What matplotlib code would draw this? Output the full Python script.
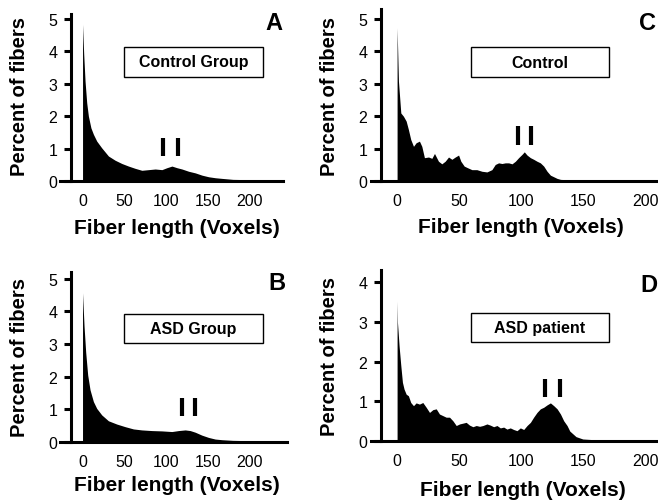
import matplotlib
matplotlib.use('Agg')
import matplotlib.pyplot as plt
from matplotlib.patches import Rectangle

plt.rcParams['font.family'] = ['Liberation Sans', 'DejaVu Sans']

W, H = 658, 502

# fiber length histograms (voxels, percent of fibers)
a_x = [0, 1.4, 3, 5, 7, 10, 13, 17, 23, 31, 39, 47, 55, 63, 71, 79, 87, 95, 101, 107,
       113, 119, 127, 135, 143, 151, 159, 167, 180, 200, 220, 240]
a_y = [4.83, 3.90, 3.08, 2.41, 2.0, 1.64, 1.44, 1.23, 1.02, 0.77, 0.64, 0.54, 0.46, 0.39,
       0.33, 0.35, 0.37, 0.35, 0.41, 0.46, 0.41, 0.37, 0.30, 0.25, 0.18, 0.13, 0.10, 0.08,
       0.05, 0.04, 0.03, 0.03]

b_x = [0, 1.8, 3.8, 6.2, 9, 13, 17, 23, 31, 41, 51, 61, 71, 83, 95, 107, 115, 123, 129,
       135, 143, 151, 159, 167, 180, 200, 220, 245]
b_y = [4.57, 3.56, 2.75, 2.05, 1.60, 1.24, 1.03, 0.83, 0.65, 0.55, 0.47, 0.40, 0.37, 0.35,
       0.34, 0.32, 0.35, 0.37, 0.35, 0.30, 0.21, 0.14, 0.09, 0.07, 0.05, 0.04, 0.03, 0.03]

c_x = [0, 1.1, 3.0, 5.1, 7.3, 9.1, 11.0, 13.2, 15.3, 18.0, 19.9, 22.0, 25.3, 28.0, 30.1,
       33.3, 36.0, 38.7, 41.4, 44.1, 46.8, 49.5, 51.3, 54.0, 56.7, 60.2, 64.2, 68.3, 72.3,
       76.3, 79.0, 81.7, 84.4, 87.1, 89.8, 92.5, 95.2, 97.8, 100.5, 102.4, 104.6, 107.3,
       109.9, 112.6, 115.3, 118.0, 120.7, 123.4, 126.1, 128.8, 131.5, 140, 160, 180, 210]
c_y = [4.73, 3.08, 2.10, 2.0, 1.85, 1.59, 1.28, 1.07, 1.18, 1.23, 1.07, 0.72, 0.74, 0.70,
       0.85, 0.61, 0.53, 0.61, 0.74, 0.67, 0.74, 0.80, 0.61, 0.46, 0.41, 0.35, 0.35, 0.30,
       0.28, 0.35, 0.51, 0.56, 0.54, 0.56, 0.56, 0.53, 0.61, 0.72, 0.82, 0.90, 0.80, 0.72,
       0.67, 0.61, 0.56, 0.46, 0.30, 0.18, 0.13, 0.08, 0.05, 0.03, 0.02, 0.02, 0.02]

d_x = [0, 0.3, 1.6, 3.0, 4.3, 5.6, 7.3, 9.1, 11, 13.2, 15.3, 18, 20.7, 23.4, 26.1, 28.8,
       31.5, 34.1, 36.8, 39.5, 42.2, 44.9, 47.6, 50.3, 53, 55.6, 58.3, 61, 63.7, 66.4, 69.1,
       72.3, 75, 77.7, 80.4, 83.1, 85.8, 88.4, 91.1, 93.8, 96.5, 99.2, 101.9, 104.6, 107.3,
       109.9, 112.6, 115.3, 118, 120.7, 123.4, 126.1, 128.8, 131.5, 134.1, 136.8, 139, 144,
       149.5, 160, 180, 210]
d_y = [3.53, 2.99, 2.40, 1.90, 1.48, 1.31, 1.18, 1.14, 0.97, 0.89, 0.96, 0.93, 0.97, 0.85,
       0.72, 0.79, 0.81, 0.68, 0.64, 0.60, 0.60, 0.51, 0.39, 0.43, 0.45, 0.47, 0.40, 0.36,
       0.39, 0.37, 0.39, 0.43, 0.40, 0.36, 0.39, 0.33, 0.35, 0.30, 0.33, 0.29, 0.26, 0.33,
       0.29, 0.39, 0.47, 0.60, 0.72, 0.81, 0.85, 0.91, 0.96, 0.89, 0.81, 0.68, 0.51, 0.39,
       0.25, 0.11, 0.05, 0.03, 0.03, 0.03]

titles = ['Control Group', 'ASD Group', 'Control', 'ASD patient']
letters = ['A', 'B', 'C', 'D']
x_ticks = [0, 50, 100, 150, 200]

# peak markers: two bars per panel (x positions, y from, y to)
marks_x = [[96, 114], [119, 135], [97, 108], [119, 131]]
marks_y = [(0.77, 1.33), (0.80, 1.35), (1.11, 1.70), (1.11, 1.56)]

# layout in pixels: axes (left, top, right, bottom), xlim, ylim, spine x,
# title box, letter pos, x label centre, y label centre
panels = [
    dict(x=a_x, y=a_y, box=(60, 15, 283, 182), xlim=(-27, 240), ylim=(0, 5.15), spine=-13.8,
         yt=range(6), tbox=(124, 48, 263, 78), let=(274, 24), xl=(177, 228), yl=(19.5, 97)),
    dict(x=b_x, y=b_y, box=(60, 273, 287, 443), xlim=(-27, 245), ylim=(0, 5.21), spine=-13.8,
         yt=range(6), tbox=(124, 315, 263, 344), let=(277, 283), xl=(177, 486), yl=(19.5, 357.5)),
    dict(x=c_x, y=c_y, box=(371, 10, 658, 182), xlim=(-21, 210), ylim=(0, 5.31), spine=-12.9,
         yt=range(6), tbox=(471, 48, 609, 78), let=(648, 24), xl=(520.5, 227.5), yl=(329.5, 97)),
    dict(x=d_x, y=d_y, box=(371, 271, 658, 442), xlim=(-21, 210), ylim=(0, 4.31), spine=-12.9,
         yt=range(5), tbox=(471, 314, 609, 343), let=(649, 285), xl=(522.5, 491), yl=(329.5, 357)),
]

fig = plt.figure(figsize=(W / 100, H / 100), dpi=100)


def fpos(x, y):
    return x / W, 1 - y / H


for i, p in enumerate(panels):
    l, t, r, b = p['box']
    ax = fig.add_axes([l / W, 1 - b / H, (r - l) / W, (b - t) / H])
    ax.fill_between(p['x'], p['y'], 0, color='black', linewidth=0)
    ax.vlines(marks_x[i], marks_y[i][0], marks_y[i][1], color='black', linewidth=3)
    ax.set_xlim(*p['xlim'])
    ax.set_ylim(*p['ylim'])
    for s in ['top', 'right']:
        ax.spines[s].set_visible(False)
    ax.spines['left'].set_position(('data', p['spine']))
    ax.spines['left'].set_linewidth(2.2)
    ax.spines['bottom'].set_linewidth(2.2)
    ax.set_xticks(x_ticks)
    ax.set_yticks(list(p['yt']))
    ax.tick_params(axis='x', length=0, pad=9, labelsize=11.5)
    ax.tick_params(axis='y', length=5, width=2.2, pad=5, labelsize=11.5)

    fig.text(*fpos(*p['xl']), 'Fiber length (Voxels)', ha='center', va='center',
             fontsize=15, fontweight='bold')
    fig.text(*fpos(*p['yl']), 'Percent of fibers', ha='center', va='center',
             rotation=90, fontsize=14.5, fontweight='bold')

    bl, bt, br, bb = p['tbox']
    fig.patches.append(Rectangle((bl / W, 1 - bb / H), (br - bl) / W, (bb - bt) / H,
                                 transform=fig.transFigure, facecolor='white',
                                 edgecolor='black', linewidth=1))
    fig.text(*fpos((bl + br) / 2, (bt + bb) / 2), titles[i], ha='center', va='center',
             fontsize=11.5, fontweight='bold')
    fig.text(*fpos(*p['let']), letters[i], ha='center', va='center',
             fontsize=17, fontweight='bold')

fig.savefig('out.png', dpi=100)
